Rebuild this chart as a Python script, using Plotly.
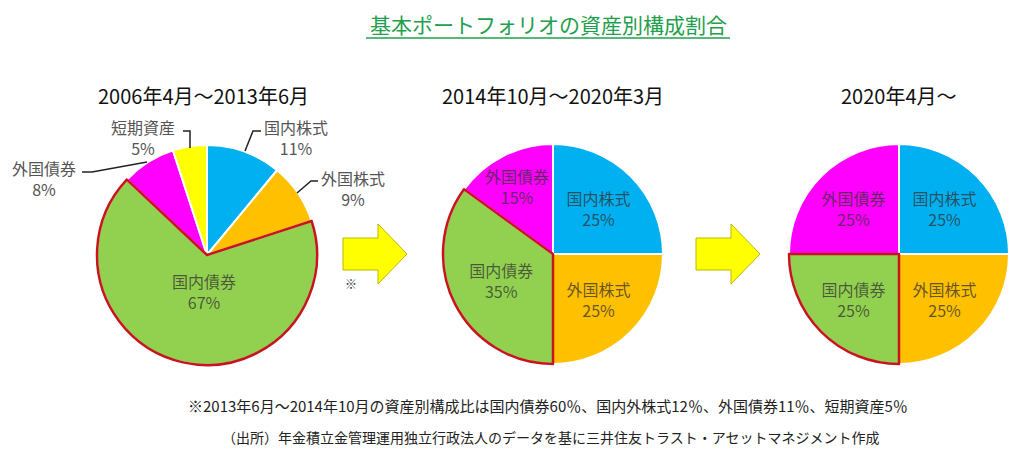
import plotly.graph_objects as go

W, H = 1024, 449

# data
labels_1 = ['国内株式', '外国株式', '国内債券', '外国債券', '短期資産']
values_1 = [11, 9, 67, 8, 5]
labels_2 = ['国内株式', '外国株式', '国内債券', '外国債券']
values_2 = [25, 25, 35, 15]
labels_3 = ['国内株式', '外国株式', '国内債券', '外国債券']
values_3 = [25, 25, 25, 25]
periods = ['2006年4月～2013年6月', '2014年10月～2020年3月', '2020年4月～']

colors = {'国内株式': '#00B0F0', '外国株式': '#FFC000', '国内債券': '#92D050',
          '外国債券': '#FF00FF', '短期資産': '#FFFF00'}

FONT = 'Noto Sans CJK JP'
TXT = 'rgba(50,50,50,0.75)'
RED = '#C8141E'


def px(x):
    return x / W


def py(y):
    return 1 - y / H


def dom(cx, cy, r):
    return dict(x=[px(cx - r), px(cx + r)], y=[py(cy + r), py(cy - r)])


fig = go.Figure()

# (labels, values, centre/radius, labels drawn by the pie itself, labels placed by hand inside)
pies = [
    (labels_1, values_1, (207, 255, 110), [], {'国内債券': (204, 291)}),
    (labels_2, values_2, (553, 254, 110), ['国内株式', '外国株式', '国内債券'], {'外国債券': (517, 187)}),
    (labels_3, values_3, (899, 254, 110), labels_3, {}),
]

annotations = []

for labels, values, (cx, cy, r), inside, manual in pies:
    text = [f'{l}<br>{v}%' if l in inside else '' for l, v in zip(labels, values)]
    fig.add_trace(go.Pie(
        labels=labels, values=values, text=text, textinfo='text',
        textposition='inside', insidetextorientation='horizontal',
        textfont=dict(family=FONT, size=16, color=TXT),
        sort=False, direction='clockwise', rotation=0,
        marker=dict(colors=[colors[l] for l in labels],
                    line=dict(color='white', width=2)),
        domain=dom(cx, cy, r), showlegend=False, hoverinfo='label+value',
    ))
    # red outline on the domestic bond slice
    fig.add_trace(go.Pie(
        labels=labels, values=values, textinfo='none',
        sort=False, direction='clockwise', rotation=0,
        marker=dict(colors=['rgba(0,0,0,0)'] * len(labels),
                    line=dict(color=[RED if l == '国内債券' else 'rgba(0,0,0,0)' for l in labels],
                              width=[2.5 if l == '国内債券' else 0 for l in labels])),
        domain=dom(cx, cy, r), showlegend=False, hoverinfo='skip',
    ))
    for l, v in zip(labels, values):
        if l in manual:
            x, y = manual[l]
            annotations.append(dict(x=px(x), y=py(y), text=f'{l}<br>{v}%',
                                    font=dict(family=FONT, size=16, color=TXT)))

# title
annotations.append(dict(x=px(548), y=py(24), text='基本ポートフォリオの資産別構成割合',
                        font=dict(family=FONT, size=21, color='#1FA04C')))
# period headings
for cx, t in zip([203, 553, 899], periods):
    annotations.append(dict(x=px(cx), y=py(95), text=t,
                            font=dict(family=FONT, size=20, color='#111111')))

# outside labels of the first pie
outside_pos = {'短期資産': (143, 137), '外国債券': (44, 178),
               '国内株式': (296, 137), '外国株式': (353, 188)}
for l, v in zip(labels_1, values_1):
    if l in outside_pos:
        x, y = outside_pos[l]
        annotations.append(dict(x=px(x), y=py(y), text=f'{l}<br>{v}%',
                                font=dict(family=FONT, size=16, color='#555555')))

annotations.append(dict(x=px(351), y=py(283), text='※',
                        font=dict(family=FONT, size=12, color='#333333')))
annotations.append(dict(x=px(548), y=py(405),
                        text='※2013年6月～2014年10月の資産別構成比は国内債券60％、国内外株式12％、外国債券11％、短期資産5％',
                        font=dict(family=FONT, size=15, color='#222222')))
annotations.append(dict(x=px(550), y=py(437),
                        text='（出所）年金積立金管理運用独立行政法人のデータを基に三井住友トラスト・アセットマネジメント作成',
                        font=dict(family=FONT, size=14, color='#222222')))
for a in annotations:
    a.update(xref='paper', yref='paper', showarrow=False, xanchor='center', yanchor='middle')


def path(points):
    return 'M' + ' L'.join(f'{px(x)},{py(y)}' for x, y in points)


shapes = []
# underline of the title
shapes.append(dict(type='line', xref='paper', yref='paper', x0=px(366), x1=px(730),
                   y0=py(38), y1=py(38), line=dict(color='#1FA04C', width=1.5)))
# leader lines
for pts in [[(183, 131), (190, 131), (190, 148)],
            [(82, 172), (92, 172), (147, 162)],
            [(261, 131), (253, 131), (245, 151)],
            [(318, 181), (311, 181), (297, 193)]]:
    shapes.append(dict(type='path', xref='paper', yref='paper', path=path(pts),
                       line=dict(color='#222222', width=1.5)))
# arrows
for dx in [0, 353]:
    pts = [(343 + dx, 238), (378 + dx, 238), (378 + dx, 224), (407 + dx, 254),
           (378 + dx, 284), (378 + dx, 270), (343 + dx, 270)]
    shapes.append(dict(type='path', xref='paper', yref='paper', path=path(pts) + ' Z',
                       fillcolor='#FFFF00', line=dict(color='#BDB700', width=1)))

fig.update_layout(
    width=W, height=H, margin=dict(l=0, r=0, t=0, b=0),
    paper_bgcolor='white', plot_bgcolor='white',
    font=dict(family=FONT),
    annotations=annotations, shapes=shapes,
)

fig.write_html('out.html', config={'displayModeBar': False},
               post_script="document.body.style.margin='0';")
